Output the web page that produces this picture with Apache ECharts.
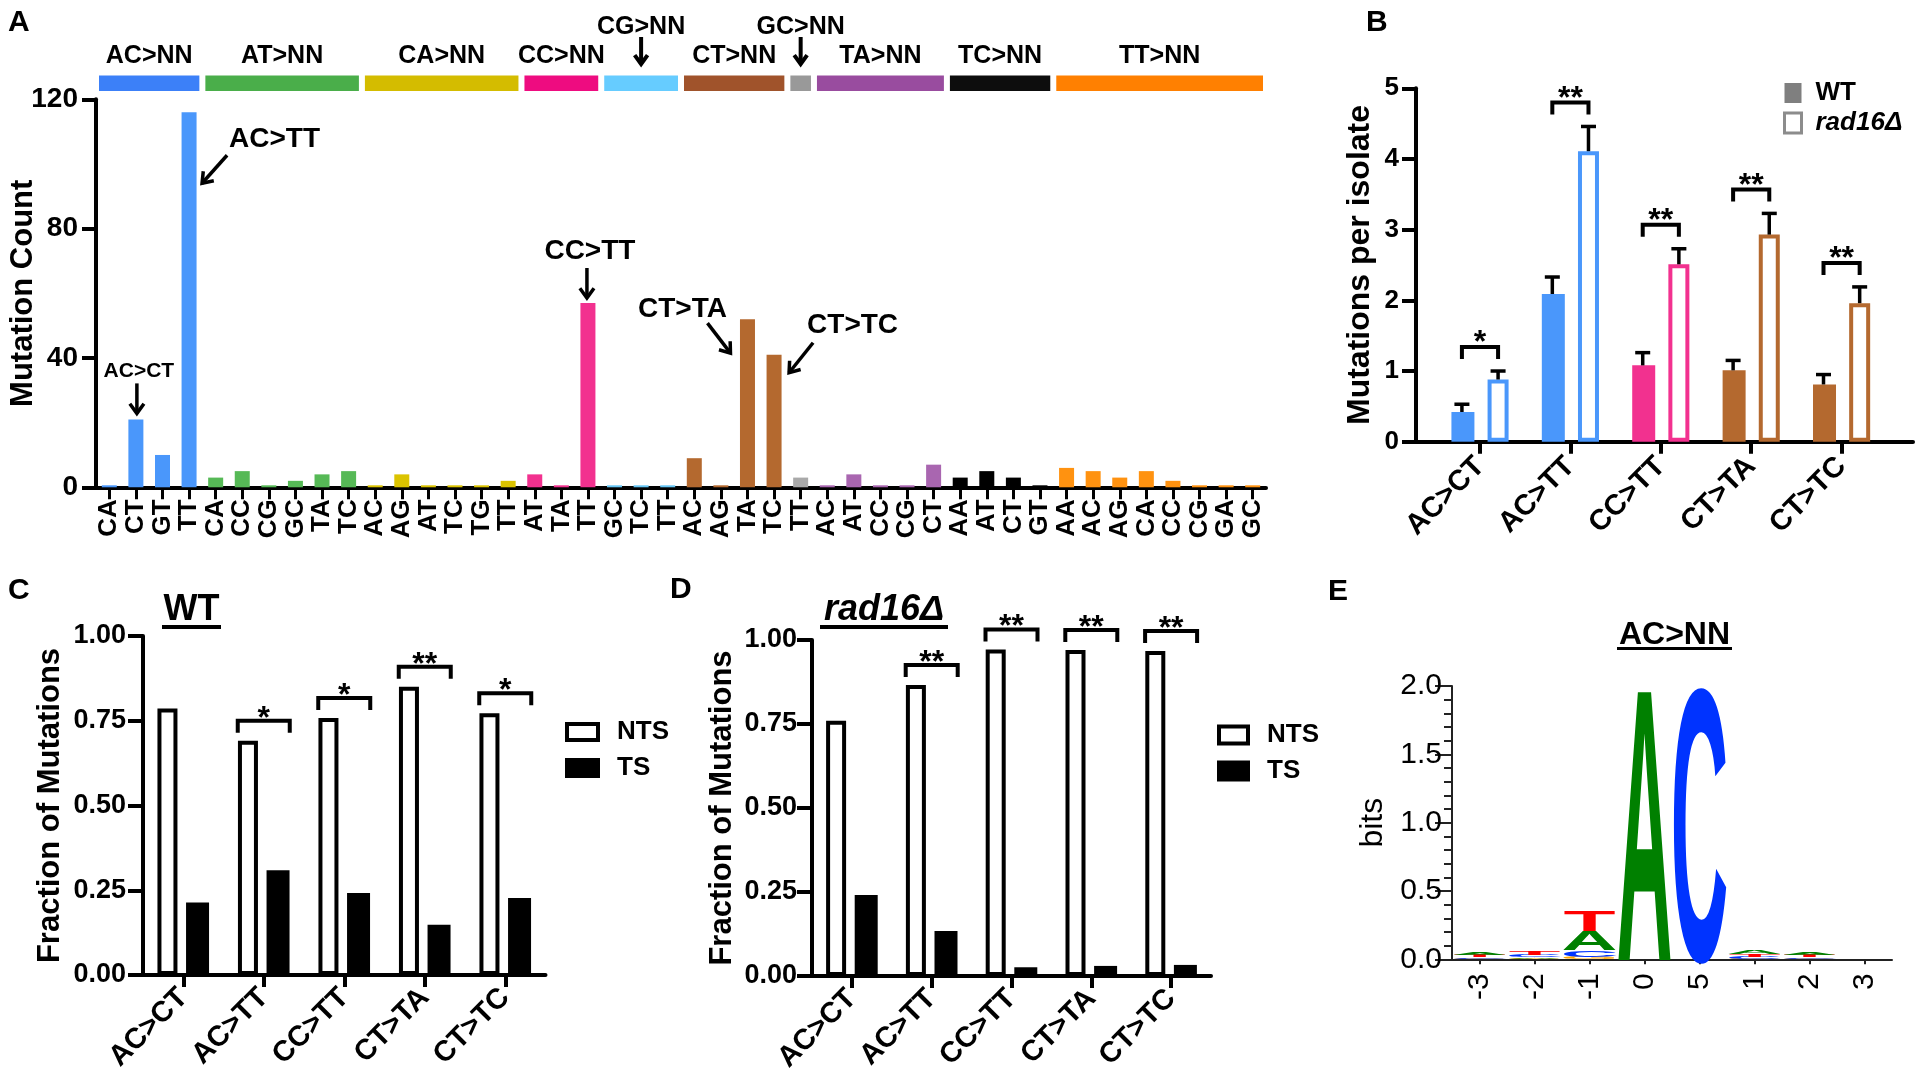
<!DOCTYPE html>
<html><head><meta charset="utf-8">
<script src="https://cdn.jsdelivr.net/npm/echarts@6/dist/echarts.min.js"></script>
<style>html,body{margin:0;padding:0;background:#fff}#chart{width:1920px;height:1080px}</style>
</head><body><div id="chart"></div>
<script>
// ================= DATA =================
// Panel A: mutation spectrum
const groupNames = ['AC>NN','AT>NN','CA>NN','CC>NN','CG>NN','CT>NN','GC>NN','TA>NN','TC>NN','TT>NN'];
const groupSizes = [4, 6, 6, 3, 3, 4, 1, 5, 4, 8];
const contextLabels = ['CA','CT','GT','TT', 'CA','CC','CG','GC','TA','TC', 'AC','AG','AT','TC','TG','TT',
  'AT','TA','TT', 'GC','TC','TT', 'AC','AG','TA','TC', 'TT', 'AC','AT','CC','CG','CT',
  'AA','AT','CT','GT', 'AA','AC','AG','CA','CC','CG','GA','GC'];
const mutationCounts = [0,21,10,116, 3,5,0,2,4,5, 0,4,0,0,0,2, 4,0,57, 0,0,0, 9,0,52,41, 3, 0,4,0,0,7, 3,5,3,0, 6,5,3,5,2,0,0,0];
const countTicks = [0, 40, 80, 120];
const raisedGroups = ['CG>NN', 'GC>NN'];
const calledOut = ['AC>CT', 'AC>TT', 'CC>TT', 'CT>TA', 'CT>TC'];

// Panel B: mutations per isolate
const focusClasses = ['AC>CT', 'AC>TT', 'CC>TT', 'CT>TA', 'CT>TC'];
const wtPerIsolate = [0.42, 2.09, 1.08, 1.01, 0.81];
const wtSem = [0.11, 0.24, 0.18, 0.14, 0.14];
const radPerIsolate = [0.88, 4.11, 2.51, 2.93, 1.96];
const radSem = [0.12, 0.35, 0.22, 0.30, 0.23];
const perIsolateSig = ['*', '**', '**', '**', '**'];
const perIsolateTicks = [0, 1, 2, 3, 4, 5];

// Panels C, D: strand fractions
const fractionTicks = [0, 0.25, 0.5, 0.75, 1];
const wtNTS = [0.786, 0.691, 0.758, 0.850, 0.772];
const wtTS = [0.214, 0.309, 0.242, 0.148, 0.227];
const wtSig = ['', '*', '*', '**', '*'];
const radNTS = [0.760, 0.866, 0.972, 0.970, 0.967];
const radTS = [0.241, 0.134, 0.026, 0.030, 0.033];
const radSig = ['', '**', '**', '**', '**'];

// Panel E: sequence logo (bits per base)
const logoPositions = ['-3', '-2', '-1', '0', '5', '1', '2', '3'];
const logoBitsA = [0.022, 0.010, 0.140, 1.960, 0, 0.025, 0.020, 0];
const logoBitsC = [0.010, 0.015, 0.050, 0, 1.960, 0.015, 0.010, 0];
const logoBitsG = [0.005, 0.005, 0.015, 0, 0, 0.005, 0.005, 0];
const logoBitsT = [0.020, 0.025, 0.145, 0, 0, 0.020, 0.015, 0];
const bitsTicks = [0, 0.5, 1, 1.5, 2];

// ================= STYLE =================
const FONT = "'Liberation Sans', Arial, Helvetica, sans-serif";
const barColors = ['#4a97fb','#56b956','#dbc300','#f2318f','#66c6f5','#b4692f','#a9a9a9','#a966b0','#000000','#ff9210'];
const headerColors = ['#3c80f8','#4aae4a','#d4bc00','#ee0c80','#66ccff','#a0532b','#999999','#994c9f','#0d0d0d','#ff8001'];
const logoLetters = ['A', 'C', 'G', 'T'];
const logoColors = ['#008000', '#0033ff', '#ffa500', '#ff0000'];
const logoInk = [0.66, 0.64, 0.68, 0.60];
const CAP = 0.688, MID_SHIFT = 0.07;

const groupStart = []; { let acc = 0; groupSizes.forEach(s => { groupStart.push(acc); acc += s; }); }
const groupOf = []; groupSizes.forEach((s, g) => { for (let k = 0; k < s; k++) groupOf.push(g); });
function classGroup(cls) { return groupNames.indexOf(cls.slice(0, 2) + '>NN'); }
function classIndex(cls) {
  const g = classGroup(cls), ctx = cls.slice(3);
  for (let k = 0; k < groupSizes[g]; k++) if (contextLabels[groupStart[g] + k] === ctx) return groupStart[g] + k;
  return -1;
}
function classColor(cls) { return barColors[classGroup(cls)]; }

function arrow(x1, y1, x2, y2, w, head) {
  const a = Math.atan2(y2 - y1, x2 - x1), s = Math.PI / 5, h = head || 12;
  const p1 = [x2 - h * Math.cos(a - s), y2 - h * Math.sin(a - s)];
  const p2 = [x2 - h * Math.cos(a + s), y2 - h * Math.sin(a + s)];
  return [
    { type: 'line', shape: { x1, y1, x2, y2 }, style: { stroke: '#000', lineWidth: w } },
    { type: 'polyline', shape: { points: [p1, [x2, y2], p2] }, style: { stroke: '#000', lineWidth: w, fill: null } }
  ];
}
function txt(text, x, y, size, opt) {
  opt = opt || {};
  return { type: 'text', x, y, style: { text, fill: '#000', align: opt.align || 'center', verticalAlign: 'middle',
    font: (opt.style || '') + ' ' + (opt.weight || 'bold') + ' ' + size + 'px ' + FONT } };
}

const calloutLayout = {
  'AC>CT': { size: 21, tx: 3, ty: -48, align: 'center', a: [1, -36, 1, -6] },
  'AC>TT': { size: 28, tx: 40, ty: 27, align: 'left', a: [38, 43, 13, 71] },
  'CC>TT': { size: 28, tx: 2, ty: -52, align: 'center', a: [-1, -35, -1, -5] },
  'CT>TA': { size: 28, tx: -65, ty: -10, align: 'center', a: [-40, 4, -17, 34] },
  'CT>TC': { size: 28, tx: 33, ty: -29, align: 'left', a: [39, -12, 15, 18] }
};

function axisLine(w, c) { return { show: true, onZero: false, lineStyle: { color: c || '#000', width: w } }; }
function boldLabel(size, extra) { return Object.assign({ color: '#000', fontFamily: FONT, fontWeight: 'bold', fontSize: size }, extra || {}); }

// ================= CHART =================
const chart = echarts.init(document.getElementById('chart'), null, { renderer: 'canvas' });

const option = {
  animation: false,
  backgroundColor: '#fff',
  grid: [
    { left: 96, top: 99.3, width: 1170, height: 388, containLabel: false, outerBoundsMode: 'none' },
    { left: 1416, top: 88.3, width: 497, height: 353.4, containLabel: false, outerBoundsMode: 'none' },
    { left: 143, top: 636, width: 402.5, height: 339, containLabel: false, outerBoundsMode: 'none' },
    { left: 812, top: 640, width: 399, height: 336, containLabel: false, outerBoundsMode: 'none' },
    { left: 1452, top: 686, width: 440, height: 273.3, containLabel: false, outerBoundsMode: 'none' }
  ],
  xAxis: [
    { gridIndex: 0, type: 'category', data: contextLabels, axisLine: axisLine(4),
      axisTick: { show: true, alignWithLabel: true, interval: 0, length: 12, lineStyle: { color: '#000', width: 3 } },
      axisLabel: boldLabel(26, { interval: 0, rotate: 90, margin: 12 }), splitLine: { show: false } },
    { gridIndex: 1, type: 'value', min: -0.708, max: 4.79, axisLine: axisLine(4),
      axisTick: { show: true, customValues: [0, 1, 2, 3, 4], length: 12, lineStyle: { color: '#000', width: 4 } },
      axisLabel: boldLabel(29, { customValues: [0, 1, 2, 3, 4], rotate: 45, margin: 20, formatter: v => focusClasses[Math.round(v)] }),
      splitLine: { show: false } },
    { gridIndex: 2, type: 'category', data: focusClasses, axisLine: axisLine(4),
      axisTick: { show: true, alignWithLabel: true, length: 12, lineStyle: { color: '#000', width: 4 } },
      axisLabel: boldLabel(29, { interval: 0, rotate: 45, margin: 18 }), splitLine: { show: false } },
    { gridIndex: 3, type: 'category', data: focusClasses, axisLine: axisLine(4),
      axisTick: { show: true, alignWithLabel: true, length: 12, lineStyle: { color: '#000', width: 4 } },
      axisLabel: boldLabel(29, { interval: 0, rotate: 45, margin: 18 }), splitLine: { show: false } },
    { gridIndex: 4, type: 'category', data: logoPositions, axisLine: axisLine(2, '#222'),
      axisTick: { show: true, alignWithLabel: true, length: 5, lineStyle: { color: '#222', width: 2 } },
      axisLabel: { interval: 0, rotate: 90, margin: 14, color: '#000', fontFamily: FONT, fontSize: 30 }, splitLine: { show: false } }
  ],
  yAxis: [
    { gridIndex: 0, type: 'value', min: countTicks[0], max: countTicks[countTicks.length - 1], interval: countTicks[1] - countTicks[0],
      axisLine: axisLine(4), axisTick: { show: true, length: 14, lineStyle: { color: '#000', width: 4 } },
      axisLabel: boldLabel(28, { margin: 18 }), splitLine: { show: false },
      name: 'Mutation Count', nameLocation: 'middle', nameGap: 57, nameMoveOverlap: false, nameTextStyle: boldLabel(31) },
    { gridIndex: 1, type: 'value', min: perIsolateTicks[0], max: perIsolateTicks[perIsolateTicks.length - 1], interval: 1,
      axisLine: axisLine(4), axisTick: { show: true, length: 14, lineStyle: { color: '#000', width: 4 } },
      axisLabel: boldLabel(26, { margin: 17 }), splitLine: { show: false },
      name: 'Mutations per isolate', nameLocation: 'middle', nameGap: 40, nameMoveOverlap: false, nameTextStyle: boldLabel(32) },
    { gridIndex: 2, type: 'value', min: fractionTicks[0], max: fractionTicks[fractionTicks.length - 1], interval: 0.25,
      axisLine: axisLine(4), axisTick: { show: true, length: 15, lineStyle: { color: '#000', width: 4 } },
      axisLabel: boldLabel(27, { margin: 17, formatter: v => v.toFixed(2) }), splitLine: { show: false },
      name: 'Fraction of Mutations', nameLocation: 'middle', nameGap: 77, nameMoveOverlap: false, nameTextStyle: boldLabel(31) },
    { gridIndex: 3, type: 'value', min: fractionTicks[0], max: fractionTicks[fractionTicks.length - 1], interval: 0.25,
      axisLine: axisLine(4), axisTick: { show: true, length: 15, lineStyle: { color: '#000', width: 4 } },
      axisLabel: boldLabel(27, { margin: 15, formatter: v => v.toFixed(2) }), splitLine: { show: false },
      name: 'Fraction of Mutations', nameLocation: 'middle', nameGap: 74, nameMoveOverlap: false, nameTextStyle: boldLabel(31) },
    { gridIndex: 4, type: 'value', min: bitsTicks[0], max: bitsTicks[bitsTicks.length - 1], interval: 0.5,
      axisLine: axisLine(2, '#222'), axisTick: { show: true, length: 17, lineStyle: { color: '#222', width: 2 } },
      minorTick: { show: true, splitNumber: 5, length: 8, lineStyle: { color: '#222', width: 2 } },
      axisLabel: { margin: 10, color: '#000', fontFamily: FONT, fontSize: 30, formatter: v => v.toFixed(1) }, splitLine: { show: false },
      name: 'bits', nameLocation: 'middle', nameGap: 63, nameMoveOverlap: false, nameTextStyle: { color: '#000', fontFamily: FONT, fontSize: 32 } }
  ],
  legend: [
    { orient: 'vertical', left: 1783, top: 80, padding: 0, itemGap: 4, itemWidth: 17, itemHeight: 20, icon: 'rect', selectedMode: false,
      data: [{ name: 'WT', itemStyle: { color: '#7f7f7f', borderWidth: 0 } },
             { name: 'rad16Δ', itemStyle: { color: '#fff', borderColor: '#8c8c8c', borderWidth: 3 } }],
      formatter: n => n === 'rad16Δ' ? '{i|rad16Δ}' : '{b|' + n + '}',
      textStyle: { rich: {
        i: { fontStyle: 'italic', fontWeight: 'bold', fontSize: 26, fontFamily: FONT, color: '#000', padding: [0, 0, 0, 9], lineHeight: 26 },
        b: { fontWeight: 'bold', fontSize: 26, fontFamily: FONT, color: '#000', padding: [0, 0, 0, 9], lineHeight: 26 } } } },
    { orient: 'vertical', left: 565, top: 719, padding: 0, itemGap: 10, itemWidth: 31, itemHeight: 16, icon: 'rect', selectedMode: false,
      data: [{ name: 'NTS', itemStyle: { color: '#fff', borderColor: '#000', borderWidth: 4 } },
             { name: 'TS', itemStyle: { color: '#000', borderColor: '#000', borderWidth: 4 } }],
      formatter: n => '{b|' + n + '}',
      textStyle: { rich: { b: { fontWeight: 'bold', fontSize: 26, fontFamily: FONT, color: '#000', padding: [0, 0, 0, 14], lineHeight: 26 } } } },
    { orient: 'vertical', left: 1217, top: 722, padding: 0, itemGap: 10, itemWidth: 29, itemHeight: 17, icon: 'rect', selectedMode: false,
      data: [{ name: 'NTS', itemStyle: { color: '#fff', borderColor: '#000', borderWidth: 4 } },
             { name: 'TS', itemStyle: { color: '#000', borderColor: '#000', borderWidth: 4 } }],
      formatter: n => '{b|' + n + '}',
      textStyle: { rich: { b: { fontWeight: 'bold', fontSize: 26, fontFamily: FONT, color: '#000', padding: [0, 0, 0, 14], lineHeight: 26 } } } }
  ],
  graphic: [
    txt('A', 8, 22.5, 30, { align: 'left' }),
    txt('B', 1366, 22.5, 30, { align: 'left' }),
    txt('C', 8, 591, 30, { align: 'left' }),
    txt('D', 670, 590, 30, { align: 'left' }),
    txt('E', 1328, 592, 30, { align: 'left' }),
    txt('WT', 191.5, 610, 36),
    { type: 'rect', shape: { x: 162, y: 625, width: 59, height: 4 }, style: { fill: '#000' } },
    txt('rad16Δ', 884, 610, 36, { style: 'italic' }),
    { type: 'rect', shape: { x: 820, y: 625, width: 128, height: 4 }, style: { fill: '#000' } },
    txt('AC>NN', 1674.5, 635, 32),
    { type: 'rect', shape: { x: 1617, y: 647, width: 115, height: 3 }, style: { fill: '#000' } }
  ],
  series: [
    // ---- Panel A bars
    { name: 'counts', type: 'bar', xAxisIndex: 0, yAxisIndex: 0, barWidth: 15, barMinHeight: 2, silent: true,
      data: mutationCounts.map((v, i) => ({ value: v, itemStyle: { color: barColors[groupOf[i]] } })) },
    // ---- Panel A group headers
    { name: 'headers', type: 'custom', xAxisIndex: 0, yAxisIndex: 0, clip: false, silent: true,
      data: groupNames.map((g, i) => [groupStart[i], groupStart[i] + groupSizes[i] - 1, i]),
      renderItem: function (params, api) {
        const gi = params.dataIndex;
        const band = api.size([1, 0])[0];
        const x0 = api.coord([api.value(0), 0])[0] - band / 2 + 3;
        const x1 = api.coord([api.value(1), 0])[0] + band / 2 - 3;
        const cx = (x0 + x1) / 2;
        const ch = [{ type: 'rect', shape: { x: x0, y: 75.5, width: x1 - x0, height: 15.5 }, style: { fill: headerColors[gi] } }];
        if (raisedGroups.indexOf(groupNames[gi]) >= 0) {
          ch.push(txt(groupNames[gi], cx, 27.5, 25));
          arrow(cx, 37, cx, 64, 4, 11).forEach(e => ch.push(e));
        } else {
          ch.push(txt(groupNames[gi], cx, 56, 25));
        }
        return { type: 'group', children: ch };
      } },
    // ---- Panel A call-outs
    { name: 'callouts', type: 'custom', xAxisIndex: 0, yAxisIndex: 0, clip: false, silent: true,
      data: calledOut.map(c => [classIndex(c), mutationCounts[classIndex(c)]]),
      renderItem: function (params, api) {
        const L = calloutLayout[calledOut[params.dataIndex]];
        const p = api.coord([api.value(0), api.value(1)]);
        const ch = [txt(calledOut[params.dataIndex], p[0] + L.tx, p[1] + L.ty, L.size, { align: L.align })];
        arrow(p[0] + L.a[0], p[1] + L.a[1], p[0] + L.a[2], p[1] + L.a[3], 3.5, 12).forEach(e => ch.push(e));
        return { type: 'group', children: ch };
      } },
    // ---- Panel B bars
    { name: 'WT', type: 'bar', xAxisIndex: 1, yAxisIndex: 1, barWidth: 23, barGap: '-100%', silent: true,
      data: focusClasses.map((c, i) => ({ value: [i - 0.2, wtPerIsolate[i]], itemStyle: { color: classColor(c) } })) },
    { name: 'rad16Δ', type: 'bar', xAxisIndex: 1, yAxisIndex: 1, barWidth: 21, barGap: '-100%', silent: true,
      data: focusClasses.map((c, i) => ({ value: [i + 0.2, radPerIsolate[i]], itemStyle: { color: '#fff', borderColor: classColor(c), borderWidth: 4 } })) },
    { name: 'errB', type: 'custom', xAxisIndex: 1, yAxisIndex: 1, clip: false, silent: true, z: 3,
      data: focusClasses.map((c, i) => [i - 0.2, wtPerIsolate[i], wtPerIsolate[i] + wtSem[i]])
        .concat(focusClasses.map((c, i) => [i + 0.2, radPerIsolate[i], radPerIsolate[i] + radSem[i]])),
      renderItem: function (params, api) {
        const a = api.coord([api.value(0), api.value(1)]), b = api.coord([api.value(0), api.value(2)]);
        return { type: 'group', children: [
          { type: 'line', shape: { x1: a[0], y1: a[1], x2: b[0], y2: b[1] }, style: { stroke: '#000', lineWidth: 3.5 } },
          { type: 'line', shape: { x1: b[0] - 7.5, y1: b[1], x2: b[0] + 7.5, y2: b[1] }, style: { stroke: '#000', lineWidth: 3.5 } }
        ] };
      } },
    { name: 'sigB', type: 'custom', xAxisIndex: 1, yAxisIndex: 1, clip: false, silent: true,
      data: focusClasses.map((c, i) => [i, radPerIsolate[i] + radSem[i]]),
      renderItem: function (params, api) {
        const i = api.value(0);
        const xl = api.coord([i - 0.2, 0])[0], xr = api.coord([i + 0.2, 0])[0];
        const yt = api.coord([i, api.value(1)])[1] - 24;
        return { type: 'group', children: [
          { type: 'polyline', shape: { points: [[xl, yt + 12], [xl, yt], [xr, yt], [xr, yt + 12]] }, style: { stroke: '#000', lineWidth: 4, fill: null } },
          txt(perIsolateSig[params.dataIndex], (xl + xr) / 2, yt - 3.5, 32)
        ] };
      } },
    // ---- Panel C
    { name: 'NTS', type: 'bar', xAxisIndex: 2, yAxisIndex: 2, barWidth: 20, barGap: '43%', silent: true, data: wtNTS,
      itemStyle: { color: '#fff', borderColor: '#000', borderWidth: 4 } },
    { name: 'TS', type: 'bar', xAxisIndex: 2, yAxisIndex: 2, barWidth: 23, barGap: '43%', silent: true, data: wtTS,
      itemStyle: { color: '#000' } },
    { name: 'sigC', type: 'custom', xAxisIndex: 2, yAxisIndex: 2, clip: false, silent: true,
      data: focusClasses.map((c, i) => [i, wtNTS[i]]),
      renderItem: function (params, api) {
        const s = wtSig[params.dataIndex];
        if (!s) return { type: 'group', children: [] };
        const p = api.coord([api.value(0), api.value(1)]);
        const xm = api.coord([api.value(0), 0])[0], yt = p[1] - 20;
        return { type: 'group', children: [
          { type: 'polyline', shape: { points: [[xm - 26, yt + 12], [xm - 26, yt], [xm + 26, yt], [xm + 26, yt + 12]] }, style: { stroke: '#000', lineWidth: 4, fill: null } },
          txt(s, xm, yt - 2, 32)
        ] };
      } },
    // ---- Panel D
    { name: 'NTS', type: 'bar', xAxisIndex: 3, yAxisIndex: 3, barWidth: 20, barGap: '43%', silent: true, data: radNTS,
      itemStyle: { color: '#fff', borderColor: '#000', borderWidth: 4 } },
    { name: 'TS', type: 'bar', xAxisIndex: 3, yAxisIndex: 3, barWidth: 23, barGap: '43%', silent: true, data: radTS,
      itemStyle: { color: '#000' } },
    { name: 'sigD', type: 'custom', xAxisIndex: 3, yAxisIndex: 3, clip: false, silent: true,
      data: focusClasses.map((c, i) => [i, radNTS[i]]),
      renderItem: function (params, api) {
        const s = radSig[params.dataIndex];
        if (!s) return { type: 'group', children: [] };
        const p = api.coord([api.value(0), api.value(1)]);
        const xm = api.coord([api.value(0), 0])[0], yt = p[1] - 20;
        return { type: 'group', children: [
          { type: 'polyline', shape: { points: [[xm - 26, yt + 12], [xm - 26, yt], [xm + 26, yt], [xm + 26, yt + 12]] }, style: { stroke: '#000', lineWidth: 4, fill: null } },
          txt(s, xm, yt - 2, 32)
        ] };
      } },
    // ---- Panel E logo
    { name: 'logo', type: 'custom', xAxisIndex: 4, yAxisIndex: 4, clip: false, silent: true,
      data: (function () {
        const out = [];
        const bits = [logoBitsA, logoBitsC, logoBitsG, logoBitsT];
        logoPositions.forEach((p, i) => {
          const order = [0, 1, 2, 3].filter(k => bits[k][i] > 0).sort((a, b) => bits[a][i] - bits[b][i]);
          let y = 0;
          order.forEach(k => { out.push([i, y, y + bits[k][i], k]); y += bits[k][i]; });
        });
        return out;
      })(),
      renderItem: function (params, api) {
        const i = api.value(0), k = api.value(3);
        const band = api.size([1, 0])[0];
        const w = band * 0.93;
        const cx = api.coord([i, 0])[0];
        const yb = api.coord([i, api.value(1)])[1], yt = api.coord([i, api.value(2)])[1];
        const h = Math.max(yb - yt, 0.3);
        const F = 100;
        const sy = h / (CAP * F);
        return { type: 'text', x: cx, y: (yb + yt) / 2 + MID_SHIFT * F * sy, scaleX: w / (logoInk[k] * F), scaleY: sy,
          style: { text: logoLetters[k], x: 0, y: 0, fill: logoColors[k], align: 'center', verticalAlign: 'middle', font: 'bold ' + F + 'px ' + FONT } };
      } }
  ]
};
chart.setOption(option);
</script>
</body></html>
